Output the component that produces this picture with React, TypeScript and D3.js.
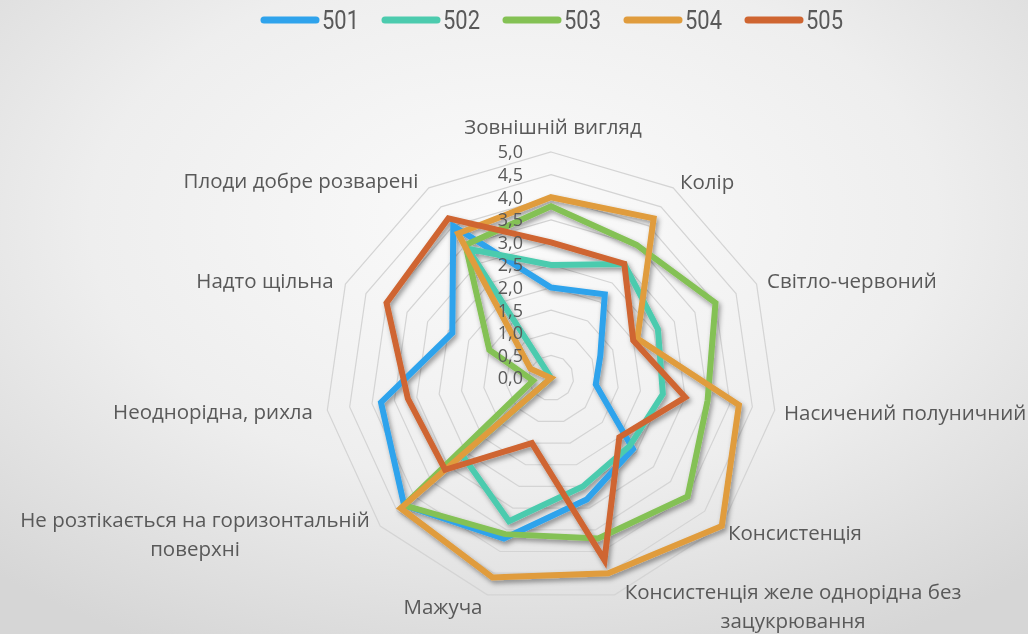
import { useEffect, useRef } from 'react';
import * as d3 from 'd3';

// axis names, clockwise from the top
const axes = [
  ['Зовнішній вигляд'],
  ['Колір'],
  ['Світло-червоний'],
  ['Насичений полуничний'],
  ['Консистенція'],
  ['Консистенція желе однорідна без', 'зацукрювання'],
  ['Мажуча'],
  ['Не розтікається на горизонтальній', 'поверхні'],
  ['Неоднорідна, рихла'],
  ['Надто щільна'],
  ['Плоди добре розварені'],
];

const seriesNames = ['501', '502', '503', '504', '505'];
const seriesColors = ['#2fa3ec', '#4ccbae', '#84c154', '#e09c3d', '#cf6531'];

const s501 = [2.0, 2.2, 1.2, 1.0, 2.4, 2.8, 3.7, 4.3, 3.8, 2.4, 4.0];
const s502 = [2.5, 3.0, 2.6, 2.5, 2.3, 2.5, 3.3, 2.6, 0.0, 0.0, 3.4];
const s503 = [3.8, 3.5, 4.0, 3.5, 4.0, 3.7, 3.6, 4.3, 0.4, 1.5, 3.5];
const s504 = [4.0, 4.2, 2.1, 4.2, 5.0, 4.5, 4.6, 4.4, 0.0, 0.5, 3.8];
const s505 = [3.0, 3.0, 2.0, 3.0, 2.0, 4.2, 1.5, 3.1, 3.2, 4.0, 4.2];

const ticks = [0, 0.5, 1, 1.5, 2, 2.5, 3, 3.5, 4, 4.5, 5];

const W = 1028;
const H = 634;

const App = () => {
  const ref = useRef<SVGSVGElement>(null);

  useEffect(() => {
    const svg = d3.select(ref.current);
    svg.selectAll('*').remove();

    const cx = 551, cy = 378, R = 226;
    const r = d3.scaleLinear().domain([0, 5]).range([0, R]);
    const n = axes.length;
    const ang = (i: number) => (i * 2 * Math.PI) / n;
    const pt = (i: number, v: number): [number, number] => [
      cx + r(v) * Math.sin(ang(i)),
      cy - r(v) * Math.cos(ang(i)),
    ];

    const defs = svg.append('defs');
    const grad = defs.append('radialGradient').attr('id', 'bg')
      .attr('cx', '50%').attr('cy', '35%').attr('r', '75%');
    grad.append('stop').attr('offset', '0%').attr('stop-color', '#fbfbfb');
    grad.append('stop').attr('offset', '55%').attr('stop-color', '#eeeeee');
    grad.append('stop').attr('offset', '100%').attr('stop-color', '#d6d6d6');

    const f = defs.append('filter').attr('id', 'shadow')
      .attr('x', '-10%').attr('y', '-10%').attr('width', '120%').attr('height', '120%');
    f.append('feDropShadow').attr('dx', 2).attr('dy', 3).attr('stdDeviation', 2.5)
      .attr('flood-color', '#000').attr('flood-opacity', 0.4);

    svg.append('rect').attr('width', W).attr('height', H).attr('fill', 'url(#bg)');

    // grid rings
    const ring = d3.line<[number, number]>().curve(d3.curveLinearClosed);
    svg.append('g').selectAll('path')
      .data(ticks.filter(t => t > 0))
      .join('path')
      .attr('d', t => ring(d3.range(n).map(i => pt(i, t))))
      .attr('fill', 'none')
      .attr('stroke', '#d4d4d4')
      .attr('stroke-width', 1.2);

    // series
    const data = [s501, s502, s503, s504, s505];
    svg.append('g').attr('filter', 'url(#shadow)').selectAll('path')
      .data(data)
      .join('path')
      .attr('d', d => ring(d.map((v, i) => pt(i, v))))
      .attr('fill', 'none')
      .attr('stroke', (_, k) => seriesColors[k])
      .attr('stroke-width', 6)
      .attr('stroke-linejoin', 'miter');

    // tick labels
    svg.append('g').selectAll('text')
      .data(ticks)
      .join('text')
      .attr('x', cx - 28)
      .attr('y', t => cy - r(t))
      .attr('dy', '0.35em')
      .attr('text-anchor', 'end')
      .attr('font-family', '"Open Sans", sans-serif')
      .attr('font-size', 18)
      .attr('fill', '#595959')
      .text(t => d3.format('.1f')(t).replace('.', ','));

    // axis labels: anchor and nudge per direction
    const place = [
      { a: 'middle', dx: 2, dy: -251 },
      { a: 'start', dx: 129, dy: -196 },
      { a: 'start', dx: 216, dy: -97 },
      { a: 'start', dx: 233, dy: 35 },
      { a: 'start', dx: 177, dy: 155 },
      { a: 'middle', dx: 242, dy: 214 },
      { a: 'middle', dx: -108, dy: 229 },
      { a: 'middle', dx: -356, dy: 142 },
      { a: 'middle', dx: -338, dy: 34 },
      { a: 'middle', dx: -286, dy: -97 },
      { a: 'middle', dx: -250, dy: -197 },
    ];
    const lab = svg.append('g')
      .attr('font-family', '"Open Sans", sans-serif')
      .attr('font-size', 20.5)
      .attr('fill', '#595959');
    axes.forEach((lines, i) => {
      const p = place[i];
      const t = lab.append('text')
        .attr('text-anchor', p.a)
        .attr('y', cy + p.dy);
      lines.forEach((s, j) => {
        t.append('tspan').attr('x', cx + p.dx).attr('dy', j === 0 ? '0.35em' : 29).text(s);
      });
    });

    // legend
    const lx = d3.scaleBand().domain(seriesNames).range([261, 866]);
    const lg = svg.append('g').selectAll('g')
      .data(seriesNames)
      .join('g')
      .attr('transform', d => `translate(${lx(d)},20)`);
    lg.append('line')
      .attr('x1', 3).attr('x2', 55)
      .attr('stroke', (_, k) => seriesColors[k])
      .attr('stroke-width', 7)
      .attr('stroke-linecap', 'round');
    lg.append('text')
      .attr('x', 61)
      .attr('dy', '0.36em')
      .attr('font-family', 'Roboto, sans-serif')
      .attr('font-size', 26)
      .attr('textLength', 37)
      .attr('lengthAdjust', 'spacingAndGlyphs')
      .attr('fill', '#595959')
      .text(d => d);
  }, []);

  return (
    <div style={{ position: 'fixed', left: 0, top: 0 }}>
      <svg ref={ref} width={W} height={H} />
    </div>
  );
};

export default App;
